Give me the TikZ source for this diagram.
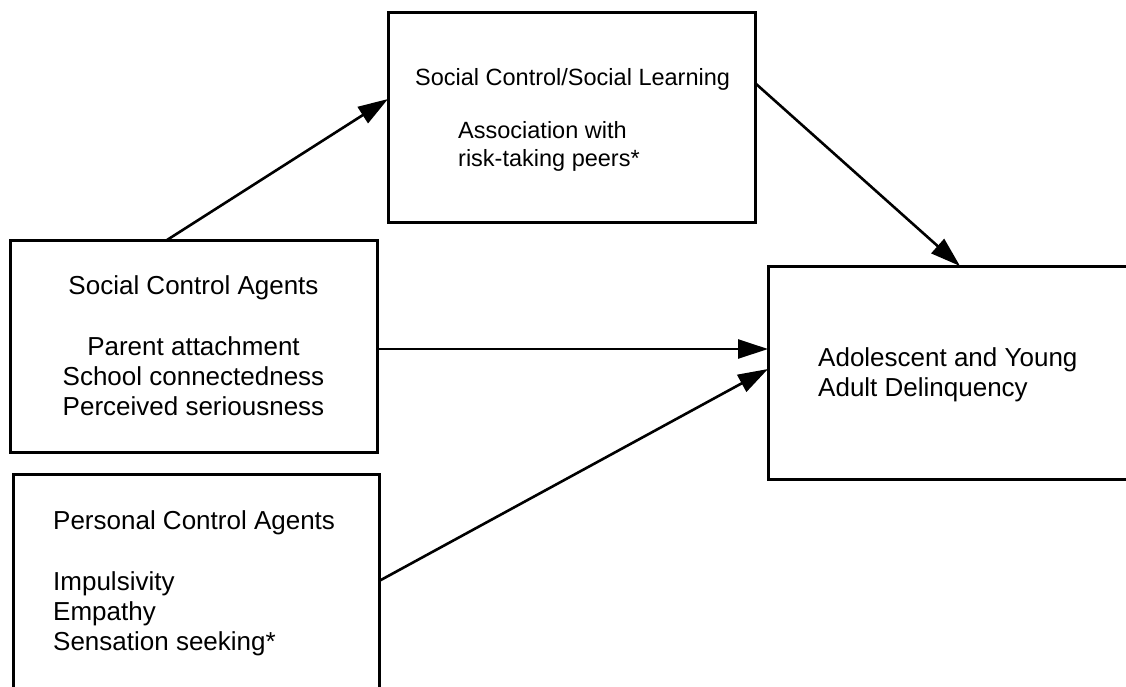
\documentclass[tikz,border=0pt]{standalone}
\usepackage{fontspec}
\setmainfont{Liberation Sans}
\usetikzlibrary{arrows.meta}
\begin{document}
\begin{tikzpicture}[x=1pt,y=-1pt,
  box/.style={draw, line width=3pt, rectangle, inner sep=0pt, outer sep=0pt, anchor=north west},
  conn/.style={line width=2.6pt, -{Triangle[length=30pt,width=19pt]}},
  big/.style={font=\fontsize{26}{30}\selectfont, inner sep=0pt},
  small/.style={font=\fontsize{23.5}{28}\selectfont, inner sep=0pt}]
\useasboundingbox (0,0) rectangle (1126,686);
\clip (0,0) rectangle (1126,686);
% boxes
\node[box, minimum width=367pt, minimum height=212pt] (A) at (10,240) {};
\node[box, minimum width=366pt, minimum height=250pt] (B) at (13,474) {};
\node[box, minimum width=367pt, minimum height=210pt] (C) at (388,12) {};
\node[box, minimum width=380pt, minimum height=213pt] (D) at (768,266) {};
% texts (anchored at the baseline of the last line)
\node[big, align=center, anchor=base] (At) at (193.5,415)
  {Social Control Agents\\[31pt]Parent attachment\\School connectedness\\Perceived seriousness};
\node[big, align=left, anchor=base west] (Bt) at (53,650)
  {Personal Control Agents\\[31pt]Impulsivity\\Empathy\\Sensation seeking*};
\node[small, anchor=base west] (Ct) at (415,85) {Social Control/Social Learning};
\node[small, align=left, anchor=base west] (Cb) at (458,166) {Association with\\risk-taking peers*};
\node[big, align=left, anchor=base west] (Dt) at (818,396) {Adolescent and Young\\Adult Delinquency};
% connectors
\draw[conn] ([xshift=157pt]A.north west) -- ([yshift=-87pt]C.north west);
\draw[conn] ([yshift=-71pt]C.north east) -- ([xshift=192pt]D.north west);
\draw[conn] ([yshift=-109pt]A.north east) -- ([yshift=-83pt]D.north west);
\draw[conn] ([yshift=-107pt]B.north east) -- ([yshift=-103pt]D.north west);
\end{tikzpicture}
\end{document}
